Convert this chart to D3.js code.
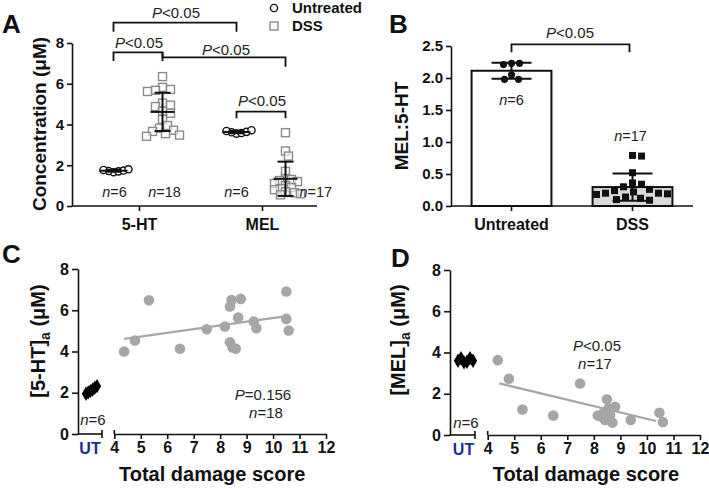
<!DOCTYPE html>
<html><head><meta charset="utf-8">
<script src="https://cdn.jsdelivr.net/npm/d3@7"></script>
<style>
body{margin:0;background:#fff}
svg text{font-family:"Liberation Sans",Arial,sans-serif}
</style></head><body>
<svg id="c" width="709" height="489"></svg>
<script>
// ---------- Panel A data ----------
const catsA = ["5-HT", "MEL"];
const groupsA = ["Untreated", "DSS"];
const a5htUT = [1.66, 1.70, 1.72, 1.74, 1.77, 1.80];
const a5htDSS = [6.35, 5.82, 5.72, 5.68, 5.62, 5.05, 4.95, 4.88, 4.65, 4.55, 4.25, 3.95, 3.82, 3.72, 3.66, 3.55, 3.48, 3.42];
const aMelUT = [3.55, 3.58, 3.62, 3.64, 3.68, 3.72];
const aMelDSS = [3.60, 2.70, 2.45, 1.70, 1.35, 1.30, 1.25, 1.20, 1.10, 1.00, 0.90, 0.85, 0.80, 0.70, 0.65, 0.60, 0.55];
const nA = ["n=6", "n=18", "n=6", "n=17"];
const ticksA = [0, 2, 4, 6, 8];
// ---------- Panel B data ----------
const catsB = ["Untreated", "DSS"];
const bUT = [2.23, 2.23, 2.21, 2.05, 1.98, 1.98];
const bDSS = [0.79, 0.78, 0.52, 0.36, 0.34, 0.30, 0.26, 0.24, 0.22, 0.20, 0.20, 0.19, 0.18, 0.14, 0.12, 0.10, 0.09];
const ticksB = [0, 0.5, 1.0, 1.5, 2.0, 2.5];
// ---------- Panel C data ----------
const cUT = [1.95, 2.02, 2.08, 2.15, 2.24, 2.32];
const cScore = [4.37, 4.78, 5.31, 6.48, 7.49, 8.18, 8.37, 8.43, 8.78, 8.68, 9.27, 9.37, 10.5, 10.5, 10.59, 8.37, 8.47, 8.59];
const cConc  = [4.00, 4.53, 6.48, 4.13, 5.08, 5.21, 6.18, 6.50, 6.55, 5.65, 5.45, 5.13, 6.91, 5.58, 5.02, 4.45, 4.19, 4.13];
const cFit = [[4.37, 4.61], [10.6, 5.73]];
// ---------- Panel D data ----------
const dUT = [3.60, 3.72, 3.52, 3.55, 3.72, 3.60];
const dScore = [4.38, 4.80, 5.31, 6.47, 7.48, 8.15, 8.49, 8.80, 8.55, 8.36, 8.42, 8.70, 9.39, 10.47, 10.60, 8.61, 8.30];
const dConc  = [3.63, 2.73, 1.24, 0.94, 2.50, 0.94, 1.73, 1.37, 1.29, 1.05, 0.73, 0.60, 0.73, 1.08, 0.63, 0.97, 0.89];
const dFit = [[4.44, 2.50], [10.34, 0.68]];
const ticksCDy = [0, 2, 4, 6, 8];
const ticksCDx = [4, 5, 6, 7, 8, 9, 10, 11, 12];

const svg = d3.select("#c");
const AX = 1.6;
const INK = "#111";

function swarm(vals, y, minDist, step) {
  const placed = [];
  return vals.map(v => {
    const py = y(v);
    let dx = 0;
    for (let k = 0; k < 400; k++) {
      const c = (k % 2 ? 1 : -1) * Math.ceil(k / 2) * step;
      if (placed.every(p => Math.hypot(p.dx - c, p.py - py) >= minDist)) { dx = c; break; }
    }
    placed.push({dx, py});
    return {v, dx, py};
  });
}
function styleAxis(g, fs) {
  g.selectAll("path,line").attr("stroke", INK).attr("stroke-width", AX);
  g.selectAll("text").attr("font-size", fs).attr("font-weight", "bold").attr("fill", INK)
    .attr("font-family", "Liberation Sans, Arial, sans-serif");
}
function label(x, y, fs, opts = {}) {
  return svg.append("text").attr("x", x).attr("y", y).attr("font-size", fs)
    .attr("text-anchor", opts.anchor || "middle").attr("font-weight", opts.bold ? "bold" : "normal")
    .attr("fill", opts.fill || INK);
}
function italicLabel(x, y, ital, rest, fs, anchor) {
  const t = label(x, y, fs, {anchor: anchor || "middle", fill: "#222"});
  t.append("tspan").attr("font-style", "italic").text(ital);
  t.append("tspan").text(rest);
  return t;
}
function bracket(x1, x2, yTop, yL, yR) {
  svg.append("path").attr("d", `M${x1},${yL}V${yTop}H${x2}V${yR}`)
    .attr("fill", "none").attr("stroke", INK).attr("stroke-width", 1.8);
}

// ================= Panel A =================
const yA = d3.scaleLinear().domain([0, 8]).range([206, 43]);
const xA = d3.scalePoint().domain(catsA).range([139, 262]);
const gA = d3.scaleBand().domain(groupsA).range([-50, 48]);
const offA = g => gA(g) + gA.bandwidth() / 2;
const seriesA = [
  {cat: "5-HT", grp: "Untreated", vals: a5htUT, md: 5},
  {cat: "5-HT", grp: "DSS", vals: a5htDSS, md: 7.5},
  {cat: "MEL", grp: "Untreated", vals: aMelUT, md: 5},
  {cat: "MEL", grp: "DSS", vals: aMelDSS, md: 5.5}
];
svg.append("g").attr("transform", "translate(72,0)")
  .call(d3.axisLeft(yA).tickValues(ticksA).tickSize(5).tickPadding(3).tickSizeOuter(0))
  .call(g => styleAxis(g, 15));
svg.append("line").attr("x1", 72).attr("x2", 317).attr("y1", 206).attr("y2", 206)
  .attr("stroke", INK).attr("stroke-width", AX);
svg.append("g").attr("transform", "translate(0,206)")
  .call(d3.axisBottom(xA).tickSize(5).tickPadding(8).tickSizeOuter(0))
  .call(g => g.select(".domain").remove())
  .call(g => styleAxis(g, 16));

seriesA.forEach(s => {
  const cx = xA(s.cat) + offA(s.grp);
  const isUT = s.grp === "Untreated";
  const pts = swarm(s.vals, yA, s.md, 1);
  const g = svg.append("g");
  if (isUT) {
    g.selectAll("circle").data(pts).join("circle")
      .attr("cx", d => cx + d.dx).attr("cy", d => d.py).attr("r", 3.6)
      .attr("fill", "#fff").attr("stroke", INK).attr("stroke-width", 1.4);
  } else {
    g.selectAll("rect").data(pts).join("rect")
      .attr("x", d => cx + d.dx - 4).attr("y", d => d.py - 4).attr("width", 8).attr("height", 8)
      .attr("fill", "#fff").attr("fill-opacity", 0.6).attr("stroke", "#8a8a8a").attr("stroke-width", 1.4);
  }
  const m = d3.mean(s.vals), sd = d3.deviation(s.vals);
  const eb = svg.append("g").attr("stroke", INK).attr("stroke-width", 2);
  const hw = isUT ? 14 : 12, cw = 8;
  eb.append("line").attr("x1", cx - hw).attr("x2", cx + hw).attr("y1", yA(m)).attr("y2", yA(m));
  eb.append("line").attr("x1", cx).attr("x2", cx).attr("y1", yA(m + sd)).attr("y2", yA(m - sd));
  [m + sd, m - sd].forEach(v => eb.append("line").attr("x1", cx - cw).attr("x2", cx + cw)
    .attr("y1", yA(v)).attr("y2", yA(v)));
});
// n labels A
italicLabel(xA("5-HT") + offA("Untreated") + 1, 197, "n", "=6", 14.5);
italicLabel(xA("5-HT") + offA("DSS") + 2, 197, "n", "=18", 14.5);
italicLabel(xA("MEL") + offA("Untreated"), 197, "n", "=6", 14.5);
italicLabel(xA("MEL") + offA("DSS") + 14, 197, "n", "=17", 14.5, "start");
// brackets A
const pA = (c, g) => xA(c) + offA(g);
bracket(pA("5-HT", "Untreated"), pA("MEL", "Untreated"), 22.7, 31.7, 31.7);
italicLabel(176, 18, "P", "<0.05", 15);
bracket(pA("5-HT", "Untreated"), pA("5-HT", "DSS"), 52.3, 61, 61);
italicLabel(139, 48, "P", "<0.05", 15);
bracket(pA("5-HT", "DSS"), pA("MEL", "DSS"), 57.3, 52.3, 66.7);
italicLabel(226, 55, "P", "<0.05", 15);
bracket(pA("MEL", "Untreated"), pA("MEL", "DSS"), 111.7, 118.3, 118.3);
italicLabel(262, 106, "P", "<0.05", 15);
// legend A
svg.append("circle").attr("cx", 274).attr("cy", 8).attr("r", 3.6).attr("fill", "#fff").attr("stroke", INK).attr("stroke-width", 1.4);
svg.append("rect").attr("x", 270).attr("y", 22).attr("width", 8).attr("height", 8).attr("fill", "#fff").attr("stroke", "#8a8a8a").attr("stroke-width", 1.4);
label(292, 13, 15, {anchor: "start", bold: true}).text(groupsA[0]);
label(292, 31, 15, {anchor: "start", bold: true}).text(groupsA[1]);
// y label A
svg.append("text").attr("transform", "translate(46,124) rotate(-90)").attr("text-anchor", "middle")
  .attr("font-size", 19).attr("font-weight", "bold").attr("fill", INK).text("Concentration (\u03bcM)");
label(2, 33, 26, {anchor: "start", bold: true}).text("A");

// ================= Panel B =================
const yB = d3.scaleLinear().domain([0, 2.5]).range([206, 46]);
const xB = d3.scaleBand().domain(catsB).range([451, 693]).paddingInner(0.34).paddingOuter(0.17);
svg.append("g").attr("transform", "translate(451,0)")
  .call(d3.axisLeft(yB).tickValues(ticksB).tickFormat(d3.format(".1f")).tickSize(5).tickPadding(3).tickSizeOuter(0))
  .call(g => styleAxis(g, 15));
const seriesB = [{cat: "Untreated", vals: bUT, fill: "#fff"}, {cat: "DSS", vals: bDSS, fill: "#d9d9d9"}];
seriesB.forEach(s => {
  const m = d3.mean(s.vals), sd = d3.deviation(s.vals);
  const x0 = xB(s.cat), bw = xB.bandwidth(), cx = x0 + bw / 2;
  svg.append("rect").attr("x", x0).attr("y", yB(m)).attr("width", bw).attr("height", yB(0) - yB(m))
    .attr("fill", s.fill).attr("stroke", INK).attr("stroke-width", 2);
  const isUT = s.cat === "Untreated";
  const pts = swarm(s.vals, yB, isUT ? 8 : 9, 1);
  if (isUT) {
    svg.append("g").selectAll("circle").data(pts).join("circle")
      .attr("cx", d => cx + d.dx).attr("cy", d => d.py).attr("r", 3.6).attr("fill", INK);
  } else {
    svg.append("g").selectAll("rect").data(pts).join("rect")
      .attr("x", d => cx + d.dx - 3.5).attr("y", d => d.py - 3.5).attr("width", 7).attr("height", 7).attr("fill", INK);
  }
  const eb = svg.append("g").attr("stroke", INK).attr("stroke-width", 2);
  eb.append("line").attr("x1", cx).attr("x2", cx).attr("y1", yB(m + sd)).attr("y2", yB(Math.max(0, m - sd)));
  [m + sd, m - sd].forEach(v => eb.append("line").attr("x1", cx - 20).attr("x2", cx + 20)
    .attr("y1", yB(v)).attr("y2", yB(v)));
});
svg.append("line").attr("x1", 451).attr("x2", 693).attr("y1", 206).attr("y2", 206)
  .attr("stroke", INK).attr("stroke-width", AX);
svg.append("g").attr("transform", "translate(0,206)")
  .call(d3.axisBottom(xB).tickSize(5).tickPadding(8).tickSizeOuter(0))
  .call(g => g.select(".domain").remove())
  .call(g => styleAxis(g, 16));
const cB = c => xB(c) + xB.bandwidth() / 2;
bracket(cB("Untreated"), cB("DSS") - 3, 44.3, 52.3, 52.3);
italicLabel(570, 38, "P", "<0.05", 15);
italicLabel(cB("Untreated"), 105, "n", "=6", 14.5);
italicLabel(cB("DSS") - 2, 141, "n", "=17", 14.5);
svg.append("text").attr("transform", "translate(408,126) rotate(-90)").attr("text-anchor", "middle")
  .attr("font-size", 19).attr("font-weight", "bold").attr("fill", INK).text("MEL:5-HT");
label(389, 33, 26, {anchor: "start", bold: true}).text("B");

// ================= Panels C & D =================
function scatterPanel(cfg) {
  const y = d3.scaleLinear().domain([0, 8]).range([cfg.y0, cfg.y8]);
  const x = d3.scaleLinear().domain([4, 12]).range([cfg.x4, cfg.x12]);
  const xu = d3.scalePoint().domain(d3.range(cfg.ut.length)).range(cfg.utRange);
  svg.append("g").attr("transform", `translate(${cfg.ax},0)`)
    .call(d3.axisLeft(y).tickValues(ticksCDy).tickSize(6).tickPadding(3).tickSizeOuter(0))
    .call(g => styleAxis(g, 16));
  // broken x-axis
  const ax = svg.append("g").attr("stroke", INK).attr("stroke-width", AX);
  ax.append("line").attr("x1", cfg.ax).attr("x2", cfg.utEnd).attr("y1", cfg.y0).attr("y2", cfg.y0);
  ax.append("line").attr("x1", cfg.utEnd).attr("x2", cfg.utEnd).attr("y1", cfg.y0 - 4).attr("y2", cfg.y0 + 4);
  ax.append("line").attr("x1", cfg.x4).attr("x2", cfg.x4).attr("y1", cfg.y0 - 4).attr("y2", cfg.y0);
  svg.append("g").attr("transform", `translate(0,${cfg.y0})`)
    .call(d3.axisBottom(x).tickValues(ticksCDx).tickFormat(d3.format("d")).tickSize(5).tickPadding(3).tickSizeOuter(0))
    .call(g => styleAxis(g, 16));
  label(cfg.utLabelX, cfg.y0 + 20, 16, {bold: true, fill: "#1c2a9c"}).text("UT");
  // UT diamonds
  svg.append("g").selectAll("path").data(cfg.ut).join("path")
    .attr("transform", (d, i) => `translate(${xu(i)},${y(d)})`)
    .attr("d", d3.symbol(d3.symbolDiamond, 60)).attr("fill", "#000");
  // fit line
  svg.append("path").datum(cfg.fit).attr("d", d3.line().x(d => x(d[0])).y(d => y(d[1])))
    .attr("fill", "none").attr("stroke", "#a6a6a6").attr("stroke-width", 2.2);
  // points
  svg.append("g").selectAll("circle").data(cfg.xs.map((s, i) => [s, cfg.ys[i]])).join("circle")
    .attr("cx", d => x(d[0])).attr("cy", d => y(d[1])).attr("r", 5.3).attr("fill", "#a6a6a6");
  // axis titles
  label((cfg.x4 + cfg.x12) / 2 - 8, 481, 20, {bold: true}).text("Total damage score");
  const yl = svg.append("text").attr("transform", `translate(${cfg.ylx},${cfg.yly}) rotate(-90)`)
    .attr("text-anchor", "middle").attr("font-size", 20).attr("font-weight", "bold").attr("fill", INK);
  yl.append("tspan").text(cfg.yName);
  yl.append("tspan").attr("font-size", 14).attr("dy", 5).text("a");
  yl.append("tspan").attr("dy", -5).text(" (\u03bcM)");
  return {x, y};
}
scatterPanel({ax: 78, utEnd: 102, x4: 114.3, x12: 326, y0: 434, y8: 269, ut: cUT, utRange: [86, 97],
  utLabelX: 90, fit: cFit, xs: cScore, ys: cConc, ylx: 45, yly: 341, yName: "[5-HT]"});
italicLabel(263, 400, "P", "=0.156", 15);
italicLabel(266, 418, "n", "=18", 15);
italicLabel(93, 425, "n", "=6", 15);
label(2, 263, 26, {anchor: "start", bold: true}).text("C");

scatterPanel({ax: 450, utEnd: 475, x4: 487.7, x12: 700, y0: 435, y8: 270, ut: dUT, utRange: [458, 473],
  utLabelX: 463.5, fit: dFit, xs: dScore, ys: dConc, ylx: 405, yly: 340, yName: "[MEL]"});
italicLabel(597, 351, "P", "<0.05", 15);
italicLabel(595, 369, "n", "=17", 15);
italicLabel(466, 428, "n", "=6", 15);
label(391, 267, 26, {anchor: "start", bold: true}).text("D");
</script>
</body></html>
